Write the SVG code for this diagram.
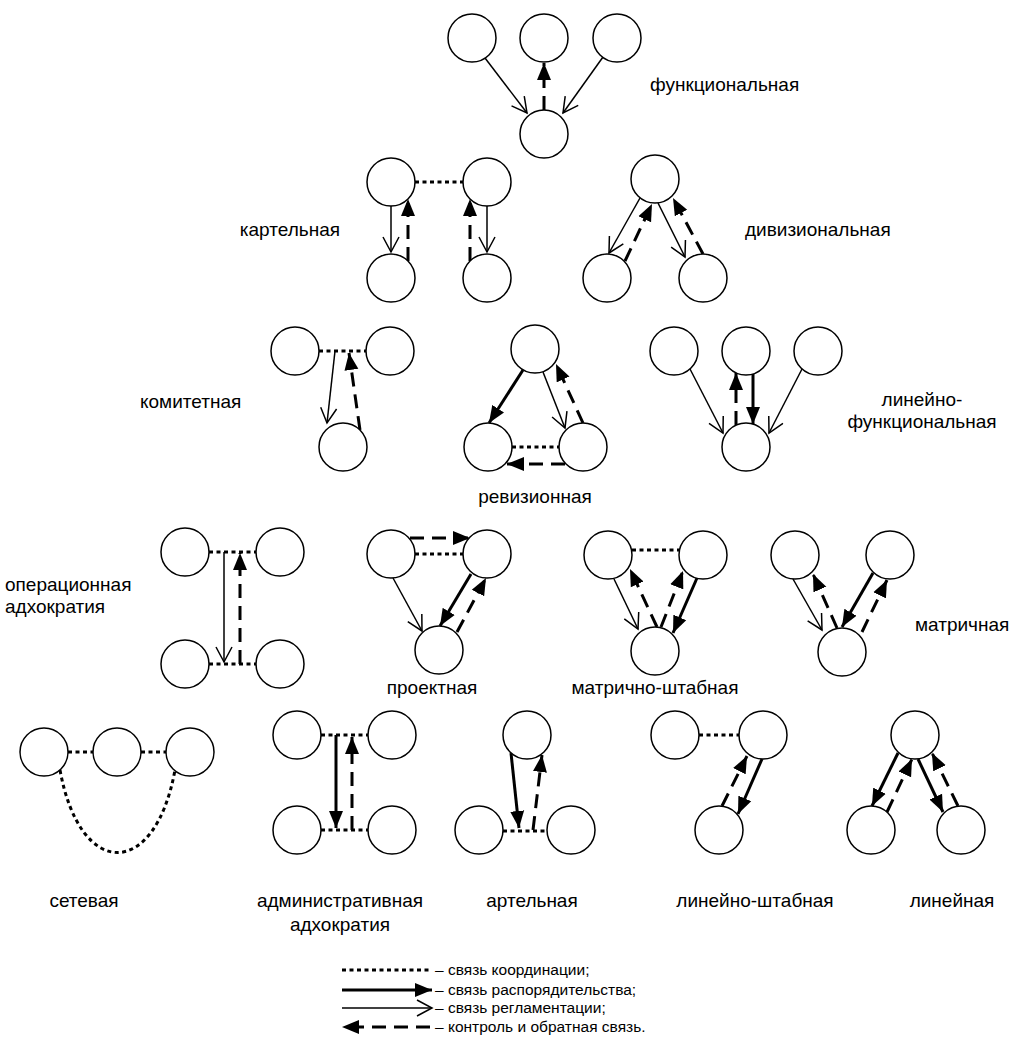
<svg xmlns="http://www.w3.org/2000/svg" width="1026" height="1057" viewBox="0 0 1026 1057">
<style>
.n{fill:#fff;stroke:#000;stroke-width:1.5}
.thin{fill:none;stroke:#000;stroke-width:1.5;marker-end:url(#ao)}
.thick{fill:none;stroke:#000;stroke-width:3;marker-end:url(#af)}
.dash{fill:none;stroke:#000;stroke-width:3;stroke-dasharray:14 8;marker-end:url(#af)}
.dot{fill:none;stroke:#000;stroke-width:3;stroke-dasharray:4 3.5}
.lb{font-family:"Liberation Sans",Arial,sans-serif;font-size:19px;fill:#000}
.lg{font-family:"Liberation Sans",Arial,sans-serif;font-size:15.5px;fill:#000}
</style>
<defs>
<marker id="af" markerUnits="userSpaceOnUse" markerWidth="19" markerHeight="15" refX="17" refY="7.5" orient="auto" viewBox="0 0 19 15"><path d="M0,0.5 L17,7.5 L0,14.5 z" fill="#000"/></marker>
<marker id="ao" markerUnits="userSpaceOnUse" markerWidth="19" markerHeight="20" refX="16" refY="9" orient="auto" viewBox="0 0 19 20"><path d="M1,1 L16,9 L1,17" fill="none" stroke="#000" stroke-width="1.5"/></marker>
</defs>
<rect width="1026" height="1057" fill="#fff"/>

<g id="connectors">
<!-- functional -->
<path class="thin" d="M485,58 L527,113"/>
<path class="thin" d="M603,57 L563,113"/>
<path class="dash" d="M544,110 L544,63"/>
<!-- cartel -->
<path class="dot" d="M415,182 L463,182"/>
<path class="thin" d="M391,206 L391,252"/>
<path class="dash" d="M408,261 L408,199"/>
<path class="dash" d="M470,261 L470,199"/>
<path class="thin" d="M487,206 L487,252"/>
<!-- divisional -->
<path class="thin" d="M640,198 L609,253"/>
<path class="dash" d="M625,261 L652,204"/>
<path class="thin" d="M658,203 L685,257"/>
<path class="dash" d="M703,254 L673,198"/>
<!-- committee -->
<path class="dot" d="M319,351 L366,351"/>
<path class="thin" d="M335,351 L327,423"/>
<path class="dash" d="M360,430 L349,353"/>
<!-- revision -->
<path class="thick" d="M523,370 L489,423"/>
<path class="thin" d="M543,372 L565,428"/>
<path class="dash" d="M583,423 L556,364"/>
<path class="dot" d="M512,447 L559,447"/>
<path class="dash" d="M565,464 L507,464"/>
<!-- linear-functional -->
<path class="thin" d="M690,369 L723,433"/>
<path class="thin" d="M802,369 L769,433"/>
<path class="dash" d="M736,425 L736,373"/>
<path class="thick" d="M753,374 L753,424"/>
<!-- operational adhocracy -->
<path class="dot" d="M209,552 L256,552"/>
<path class="dot" d="M209,664 L256,664"/>
<path class="thin" d="M224,552 L224,662"/>
<path class="dash" d="M240,664 L240,553"/>
<!-- project -->
<path class="dash" d="M410,538 L470,538"/>
<path class="dot" d="M415,554 L463,554"/>
<path class="thin" d="M393,578 L422,631"/>
<path class="thick" d="M471,574 L440,626"/>
<path class="dash" d="M457,632 L486,578"/>
<!-- matrix-staff -->
<path class="dot" d="M632,550 L679,550"/>
<path class="thin" d="M614,579 L638,629"/>
<path class="dash" d="M657,627 L630,569"/>
<path class="dash" d="M661,627 L683,571"/>
<path class="thick" d="M697,578 L673,633"/>
<!-- matrix -->
<path class="thin" d="M793,579 L822,630"/>
<path class="dash" d="M837,628 L813,574"/>
<path class="thick" d="M873,573 L842,627"/>
<path class="dash" d="M862,632 L887,580"/>
<!-- network -->
<path class="dot" d="M68,752 L93,752"/>
<path class="dot" d="M141,752 L166,752"/>
<path class="dot" d="M60,770 C80,880 155,880 175,770"/>
<!-- administrative adhocracy -->
<path class="dot" d="M321,735 L368,735"/>
<path class="dot" d="M321,830 L368,830"/>
<path class="thick" d="M336,735 L336,828"/>
<path class="dash" d="M352,830 L352,737"/>
<!-- artel -->
<path class="thick" d="M511,753 L519,828"/>
<path class="dash" d="M533,830 L542,755"/>
<path class="dot" d="M503,831 L547,831"/>
<!-- linear-staff -->
<path class="dot" d="M699,735 L739,735"/>
<path class="dash" d="M722,806 L747,756"/>
<path class="thick" d="M762,759 L738,814"/>
<!-- linear -->
<path class="thick" d="M898,753 L872,806"/>
<path class="dash" d="M887,812 L912,759"/>
<path class="thick" d="M918,759 L943,812"/>
<path class="dash" d="M958,806 L932,753"/>
<!-- legend -->
<path class="dot" d="M342,970 L430,970"/>
<path class="thick" d="M342,990 L432,990"/>
<path class="thin" d="M342,1008 L432,1008"/>
<path class="dash" d="M430,1027 L342,1027"/>
</g>

<g id="fun1"><circle class="n" cx="472" cy="38" r="24"/></g>
<g id="fun2"><circle class="n" cx="544" cy="38" r="24"/></g>
<g id="fun3"><circle class="n" cx="617" cy="38" r="24"/></g>
<g id="fun4"><circle class="n" cx="544" cy="134" r="24"/></g>

<g id="car1"><circle class="n" cx="391" cy="182" r="24"/></g>
<g id="car2"><circle class="n" cx="487" cy="182" r="24"/></g>
<g id="car3"><circle class="n" cx="391" cy="278" r="24"/></g>
<g id="car4"><circle class="n" cx="487" cy="278" r="24"/></g>

<g id="div1"><circle class="n" cx="655" cy="179" r="24"/></g>
<g id="div2"><circle class="n" cx="607" cy="278" r="24"/></g>
<g id="div3"><circle class="n" cx="703" cy="278" r="24"/></g>

<g id="com1"><circle class="n" cx="295" cy="351" r="24"/></g>
<g id="com2"><circle class="n" cx="390" cy="351" r="24"/></g>
<g id="com3"><circle class="n" cx="343" cy="447" r="24"/></g>

<g id="rev1"><circle class="n" cx="535" cy="349" r="24"/></g>
<g id="rev2"><circle class="n" cx="488" cy="447" r="24"/></g>
<g id="rev3"><circle class="n" cx="583" cy="447" r="24"/></g>

<g id="lf1"><circle class="n" cx="674" cy="351" r="24"/></g>
<g id="lf2"><circle class="n" cx="746" cy="351" r="24"/></g>
<g id="lf3"><circle class="n" cx="818" cy="351" r="24"/></g>
<g id="lf4"><circle class="n" cx="746" cy="447" r="24"/></g>

<g id="op1"><circle class="n" cx="185" cy="552" r="24"/></g>
<g id="op2"><circle class="n" cx="280" cy="552" r="24"/></g>
<g id="op3"><circle class="n" cx="185" cy="664" r="24"/></g>
<g id="op4"><circle class="n" cx="280" cy="664" r="24"/></g>

<g id="pr1"><circle class="n" cx="391" cy="554" r="24"/></g>
<g id="pr2"><circle class="n" cx="487" cy="554" r="24"/></g>
<g id="pr3"><circle class="n" cx="439" cy="650" r="24"/></g>

<g id="ms1"><circle class="n" cx="608" cy="555" r="24"/></g>
<g id="ms2"><circle class="n" cx="703" cy="555" r="24"/></g>
<g id="ms3"><circle class="n" cx="655" cy="651" r="24"/></g>

<g id="mx1"><circle class="n" cx="795" cy="555" r="24"/></g>
<g id="mx2"><circle class="n" cx="890" cy="555" r="24"/></g>
<g id="mx3"><circle class="n" cx="842" cy="652" r="24"/></g>

<g id="net1"><circle class="n" cx="44" cy="752" r="24"/></g>
<g id="net2"><circle class="n" cx="117" cy="752" r="24"/></g>
<g id="net3"><circle class="n" cx="190" cy="752" r="24"/></g>

<g id="adm1"><circle class="n" cx="297" cy="735" r="24"/></g>
<g id="adm2"><circle class="n" cx="392" cy="735" r="24"/></g>
<g id="adm3"><circle class="n" cx="297" cy="830" r="24"/></g>
<g id="adm4"><circle class="n" cx="392" cy="830" r="24"/></g>

<g id="art1"><circle class="n" cx="527" cy="735" r="24"/></g>
<g id="art2"><circle class="n" cx="479" cy="830" r="24"/></g>
<g id="art3"><circle class="n" cx="571" cy="830" r="24"/></g>

<g id="ls1"><circle class="n" cx="675" cy="735" r="24"/></g>
<g id="ls2"><circle class="n" cx="763" cy="735" r="24"/></g>
<g id="ls3"><circle class="n" cx="719" cy="830" r="24"/></g>

<g id="lin1"><circle class="n" cx="915" cy="735" r="24"/></g>
<g id="lin2"><circle class="n" cx="871" cy="830" r="24"/></g>
<g id="lin3"><circle class="n" cx="961" cy="830" r="24"/></g>

<g id="labels">
<text class="lb" x="650" y="91">функциональная</text>
<text class="lb" x="340" y="236" text-anchor="end">картельная</text>
<text class="lb" x="745" y="236">дивизиональная</text>
<text class="lb" x="140" y="408">комитетная</text>
<text class="lb" x="535" y="503" text-anchor="middle">ревизионная</text>
<text class="lb" x="922" y="406" text-anchor="middle">линейно-</text>
<text class="lb" x="922" y="428" text-anchor="middle">функциональная</text>
<text class="lb" x="5" y="591">операционная</text>
<text class="lb" x="5" y="613">адхократия</text>
<text class="lb" x="432" y="694" text-anchor="middle">проектная</text>
<text class="lb" x="655" y="694" text-anchor="middle">матрично-штабная</text>
<text class="lb" x="915" y="631">матричная</text>
<text class="lb" x="84" y="907" text-anchor="middle">сетевая</text>
<text class="lb" x="340" y="907" text-anchor="middle">административная</text>
<text class="lb" x="340" y="931" text-anchor="middle">адхократия</text>
<text class="lb" x="532" y="907" text-anchor="middle">артельная</text>
<text class="lb" x="755" y="907" text-anchor="middle">линейно-штабная</text>
<text class="lb" x="952" y="907" text-anchor="middle">линейная</text>
</g>

<g id="legend">
<text class="lg" x="435" y="975">– связь координации;</text>
<text class="lg" x="435" y="995">– связь распорядительства;</text>
<text class="lg" x="435" y="1013">– связь регламентации;</text>
<text class="lg" x="435" y="1032">– контроль и обратная связь.</text>
</g>
</svg>
